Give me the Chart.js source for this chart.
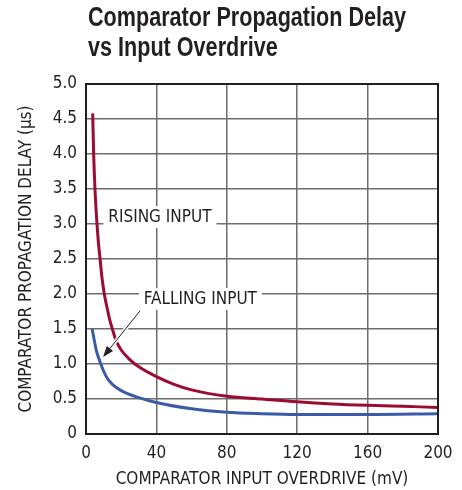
<!DOCTYPE html>
<html>
<head>
<meta charset="utf-8">
<script src="https://cdn.jsdelivr.net/npm/chart.js@4"></script>
<style>
  html, body { margin: 0; padding: 0; background: #fff; }
  #wrap { position: relative; width: 462px; height: 490px; }
  #title { position: absolute; left: 88px; top: 2px; font-family: "Liberation Sans", sans-serif; white-space: nowrap;
           font-weight: bold; font-size: 27px; line-height: 30px; color: #231f20;
           transform: scaleX(0.8); transform-origin: left top; z-index: 2; }
  canvas { position: absolute; left: 0; top: 0; }
</style>
</head>
<body>
<div id="wrap">
  <div id="title">Comparator Propagation Delay<br>vs Input Overdrive</div>
  <canvas id="myChart" width="462" height="490"></canvas>
</div>
<script>
// values (mV, µs)
const risingX = [3.8, 4.35, 5.1, 6.25, 7, 8, 9, 10.4, 12, 13.5, 15.1, 17, 20, 25, 30, 40, 50, 60, 80, 100, 120, 140, 160, 180, 200]
const risingY = [4.58, 4.0, 3.5, 3.0, 2.75, 2.5, 2.25, 2.0, 1.8, 1.63, 1.49, 1.34, 1.2, 1.06, 0.96, 0.82, 0.71, 0.63, 0.54, 0.5, 0.46, 0.43, 0.41, 0.395, 0.38]
const fallingX = [3.5, 5, 6, 8, 10, 12, 15, 20, 30, 40, 60, 80, 100, 120, 160, 200]
const fallingY = [1.5, 1.3, 1.18, 1.03, 0.9, 0.8, 0.71, 0.62, 0.52, 0.45, 0.36, 0.31, 0.29, 0.28, 0.28, 0.29]
const xTicks = [0, 40, 80, 120, 160, 200]
const yTicks = [0, 0.5, 1.0, 1.5, 2.0, 2.5, 3.0, 3.5, 4.0, 4.5, 5.0]

const FONT = '"DejaVu Sans Condensed", "Liberation Sans", sans-serif'
const TXT = '#231f20'

function pts(xs, ys){
    return xs.map((x, i) => ({x: x, y: ys[i]}))
}

// labels inside the plot, with a white box that hides the grid behind them
const notes = {
    id: 'notes',
    beforeDatasetsDraw(chart){
        const c = chart.ctx
        const xs = chart.scales.x, ys = chart.scales.y
        c.save()
        c.font = '17px ' + FONT
        c.textBaseline = 'middle'
        c.textAlign = 'center'
        const labels = [
            {text: 'RISING INPUT', x: 42, y: 3.1},
            {text: 'FALLING INPUT', x: 65, y: 1.93}
        ]
        labels.forEach(l => {
            const px = xs.getPixelForValue(l.x), py = ys.getPixelForValue(l.y)
            const w = c.measureText(l.text).width
            c.fillStyle = '#fff'
            c.fillRect(px - w/2 - 5, py - 11, w + 10, 22)
            c.fillStyle = TXT
            c.fillText(l.text, px, py + 1)
        })
        c.restore()
    },
    afterDatasetsDraw(chart){
        // leader arrow for falling input, with a white halo over the red curve
        const c = chart.ctx
        const xs = chart.scales.x, ys = chart.scales.y
        const x1 = xs.getPixelForValue(30.7), y1 = ys.getPixelForValue(1.76)
        const x2 = xs.getPixelForValue(9.7), y2 = ys.getPixelForValue(1.1)
        const a = Math.atan2(y2 - y1, x2 - x1)
        const ex = x2 - 8*Math.cos(a), ey = y2 - 8*Math.sin(a)
        c.save()
        c.lineCap = 'butt'
        c.strokeStyle = '#fff'
        c.lineWidth = 4
        c.beginPath()
        c.moveTo(x1 + 2*Math.cos(a), y1 + 2*Math.sin(a))
        c.lineTo(ex, ey)
        c.stroke()
        c.strokeStyle = TXT
        c.fillStyle = TXT
        c.lineWidth = 1
        c.beginPath()
        c.moveTo(x1, y1)
        c.lineTo(ex, ey)
        c.stroke()
        c.beginPath()
        c.moveTo(x2, y2)
        c.lineTo(x2 - 11*Math.cos(a) + 4*Math.sin(a), y2 - 11*Math.sin(a) - 4*Math.cos(a))
        c.lineTo(x2 - 11*Math.cos(a) - 4*Math.sin(a), y2 - 11*Math.sin(a) + 4*Math.cos(a))
        c.closePath()
        c.fill()
        c.restore()
    },
    afterDraw(chart){
        const a = chart.chartArea, c = chart.ctx
        c.save()
        c.strokeStyle = '#231f20'
        c.lineWidth = 2
        c.strokeRect(a.left, a.top, a.right - a.left, a.bottom - a.top)
        c.restore()
    }
}

const ctx = document.getElementById('myChart').getContext('2d')

const myChart = new Chart(ctx, {
    type: 'line',
    data: {
        datasets: [
            {
                label: 'RISING INPUT',
                data: pts(risingX, risingY),
                borderColor: '#9c0c32',
                borderWidth: 3,
                pointRadius: 0,
                cubicInterpolationMode: 'monotone',
                fill: false
            },
            {
                label: 'FALLING INPUT',
                data: pts(fallingX, fallingY),
                borderColor: '#3b5ba9',
                borderWidth: 3,
                pointRadius: 0,
                cubicInterpolationMode: 'monotone',
                fill: false
            }
        ]
    },
    options: {
        responsive: false,
        animation: false,
        layout: { padding: { top: 84, right: 24, left: 16, bottom: 0 } },
        plugins: {
            legend: { display: false },
            tooltip: { enabled: false }
        },
        scales: {
            x: {
                type: 'linear',
                min: 0, max: 200,
                afterBuildTicks: s => { s.ticks = xTicks.map(v => ({value: v})) },
                afterFit: s => { s.height = 56 },
                grid: { color: '#6d6d6d', lineWidth: 1.5, drawTicks: false },
                border: { display: false },
                ticks: { color: TXT, font: { family: FONT, size: 17 }, padding: 9 },
                title: { display: true, text: 'COMPARATOR INPUT OVERDRIVE (mV)', color: TXT,
                         font: { family: FONT, size: 17 }, padding: { top: 4, bottom: 0 } }
            },
            y: {
                min: 0, max: 5,
                afterBuildTicks: s => { s.ticks = yTicks.map(v => ({value: v})) },
                afterFit: s => { s.width = 70 },
                grid: { color: '#6d6d6d', lineWidth: 1.5, drawTicks: false },
                border: { display: false },
                ticks: { color: TXT, font: { family: FONT, size: 17 }, padding: 9,
                         callback: v => v === 0 ? '0' : v.toFixed(1) },
                title: { display: true, text: 'COMPARATOR PROPAGATION DELAY (µs)', color: TXT,
                         font: { family: FONT, size: 17 }, padding: { top: 0, bottom: 0 } }
            }
        }
    },
    plugins: [notes]
})
myChart.update()
</script>
</body>
</html>
